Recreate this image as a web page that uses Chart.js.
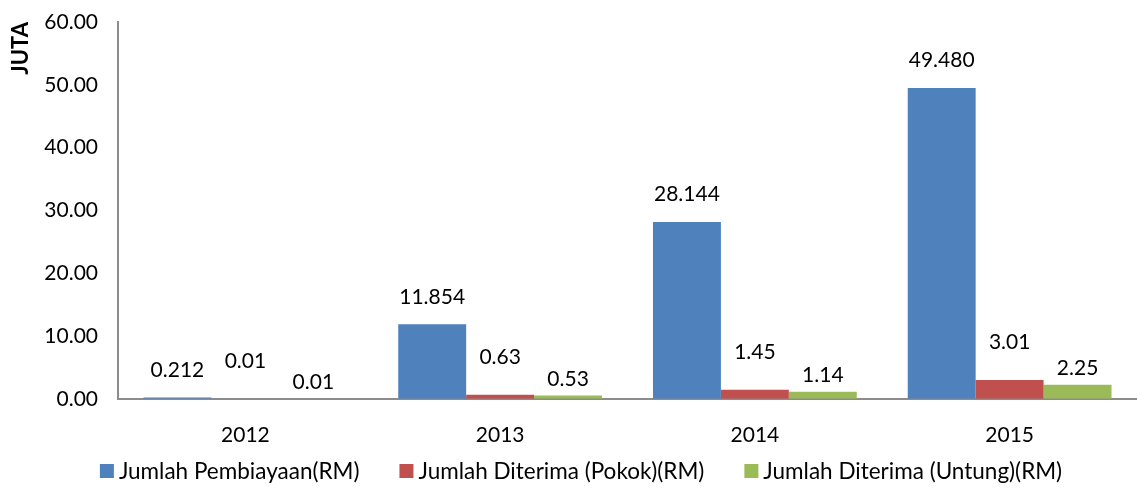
<!DOCTYPE html>
<html>
<head>
<meta charset="utf-8">
<script src="https://cdn.jsdelivr.net/npm/chart.js@4"></script>
<style>
  html, body { margin: 0; padding: 0; background: #fff; }
  #wrap { width: 1137px; height: 489px; }
</style>
</head>
<body>
<div id="wrap"><canvas id="c" width="1137" height="489"></canvas></div>
<script>
const categories = ['2012', '2013', '2014', '2015'];
const pembiayaan = [0.212, 11.854, 28.144, 49.480];
const pokok = [0.01, 0.63, 1.45, 3.01];
const untung = [0.01, 0.53, 1.14, 2.25];
const seriesNames = ['Jumlah Pembiayaan(RM)', 'Jumlah Diterima (Pokok)(RM)', 'Jumlah Diterima (Untung)(RM)'];
const labelDecimals = [3, 2, 2];
const yTicks = [0, 10, 20, 30, 40, 50, 60];

const FONT = 'Lato, "Open Sans", sans-serif';

const labelPlugin = {
  id: 'valueLabels',
  afterDatasetsDraw(chart) {
    const ctx = chart.ctx;
    const offsets = [17, 27, 6];
    ctx.save();
    ctx.font = '21px ' + FONT;
    ctx.fillStyle = '#000';
    ctx.textAlign = 'center';
    ctx.textBaseline = 'bottom';
    chart.data.datasets.forEach((ds, di) => {
      const meta = chart.getDatasetMeta(di);
      meta.data.forEach((el, i) => {
        const v = ds.data[i];
        ctx.fillText(v.toFixed(labelDecimals[di]), el.x, el.y - offsets[di]);
      });
    });
    ctx.restore();
  }
};

const legendPlugin = {
  id: 'bottomLegend',
  afterDraw(chart) {
    const ctx = chart.ctx;
    const box = 14, gapText = 5, gapItem = 40, cy = 471, cx = 581;
    ctx.save();
    ctx.font = '22.5px ' + FONT;
    ctx.textBaseline = 'middle';
    ctx.textAlign = 'left';
    const items = chart.data.datasets.map(ds => ({
      text: ds.label, color: ds.backgroundColor, w: ctx.measureText(ds.label).width
    }));
    let total = 0;
    items.forEach((it, i) => { total += box + gapText + it.w + (i < items.length - 1 ? gapItem : 0); });
    let x = cx - total / 2;
    items.forEach(it => {
      ctx.fillStyle = it.color;
      ctx.fillRect(x, cy - box / 2, box, box);
      x += box + gapText;
      ctx.fillStyle = '#000';
      ctx.fillText(it.text, x, cy + 1);
      x += it.w + gapItem;
    });
    ctx.restore();
  }
};

new Chart(document.getElementById('c'), {
  type: 'bar',
  data: {
    labels: categories,
    datasets: [
      { label: seriesNames[0], data: pembiayaan, backgroundColor: '#4F81BD' },
      { label: seriesNames[1], data: pokok, backgroundColor: '#C0504D' },
      { label: seriesNames[2], data: untung, backgroundColor: '#9BBB59' }
    ]
  },
  options: {
    responsive: false,
    animation: false,
    devicePixelRatio: 1,
    layout: { padding: { top: 22, right: -8, left: 2, bottom: 17 } },
    datasets: { bar: { categoryPercentage: 0.8, barPercentage: 1.0 } },
    plugins: {
      legend: { display: false },
      tooltip: { enabled: false }
    },
    scales: {
      x: {
        grid: { display: false, drawTicks: false },
        border: { display: true, color: '#8C8C8C', width: 2 },
        ticks: { font: { family: FONT, size: 21 }, color: '#000', padding: 24 },
        afterFit(scale) { scale.paddingLeft = 0; scale.paddingRight = 0; }
      },
      y: {
        min: 0, max: 60,
        afterBuildTicks(scale) { scale.ticks = yTicks.map(v => ({ value: v })); },
        afterFit(scale) { scale.width = 116; scale.paddingTop = 0; scale.paddingBottom = 0; },
        grid: { display: false, drawTicks: false },
        border: { display: true, color: '#8C8C8C', width: 2 },
        ticks: {
          font: { family: FONT, size: 21 }, color: '#000', padding: 20,
          callback: v => Number(v).toFixed(2)
        },
        title: {
          display: true, text: 'JUTA', align: 'end',
          font: { family: FONT, size: 22, weight: 'bold' }, color: '#000', padding: 6
        }
      }
    }
  },
  plugins: [labelPlugin, legendPlugin]
});
</script>
</body>
</html>
